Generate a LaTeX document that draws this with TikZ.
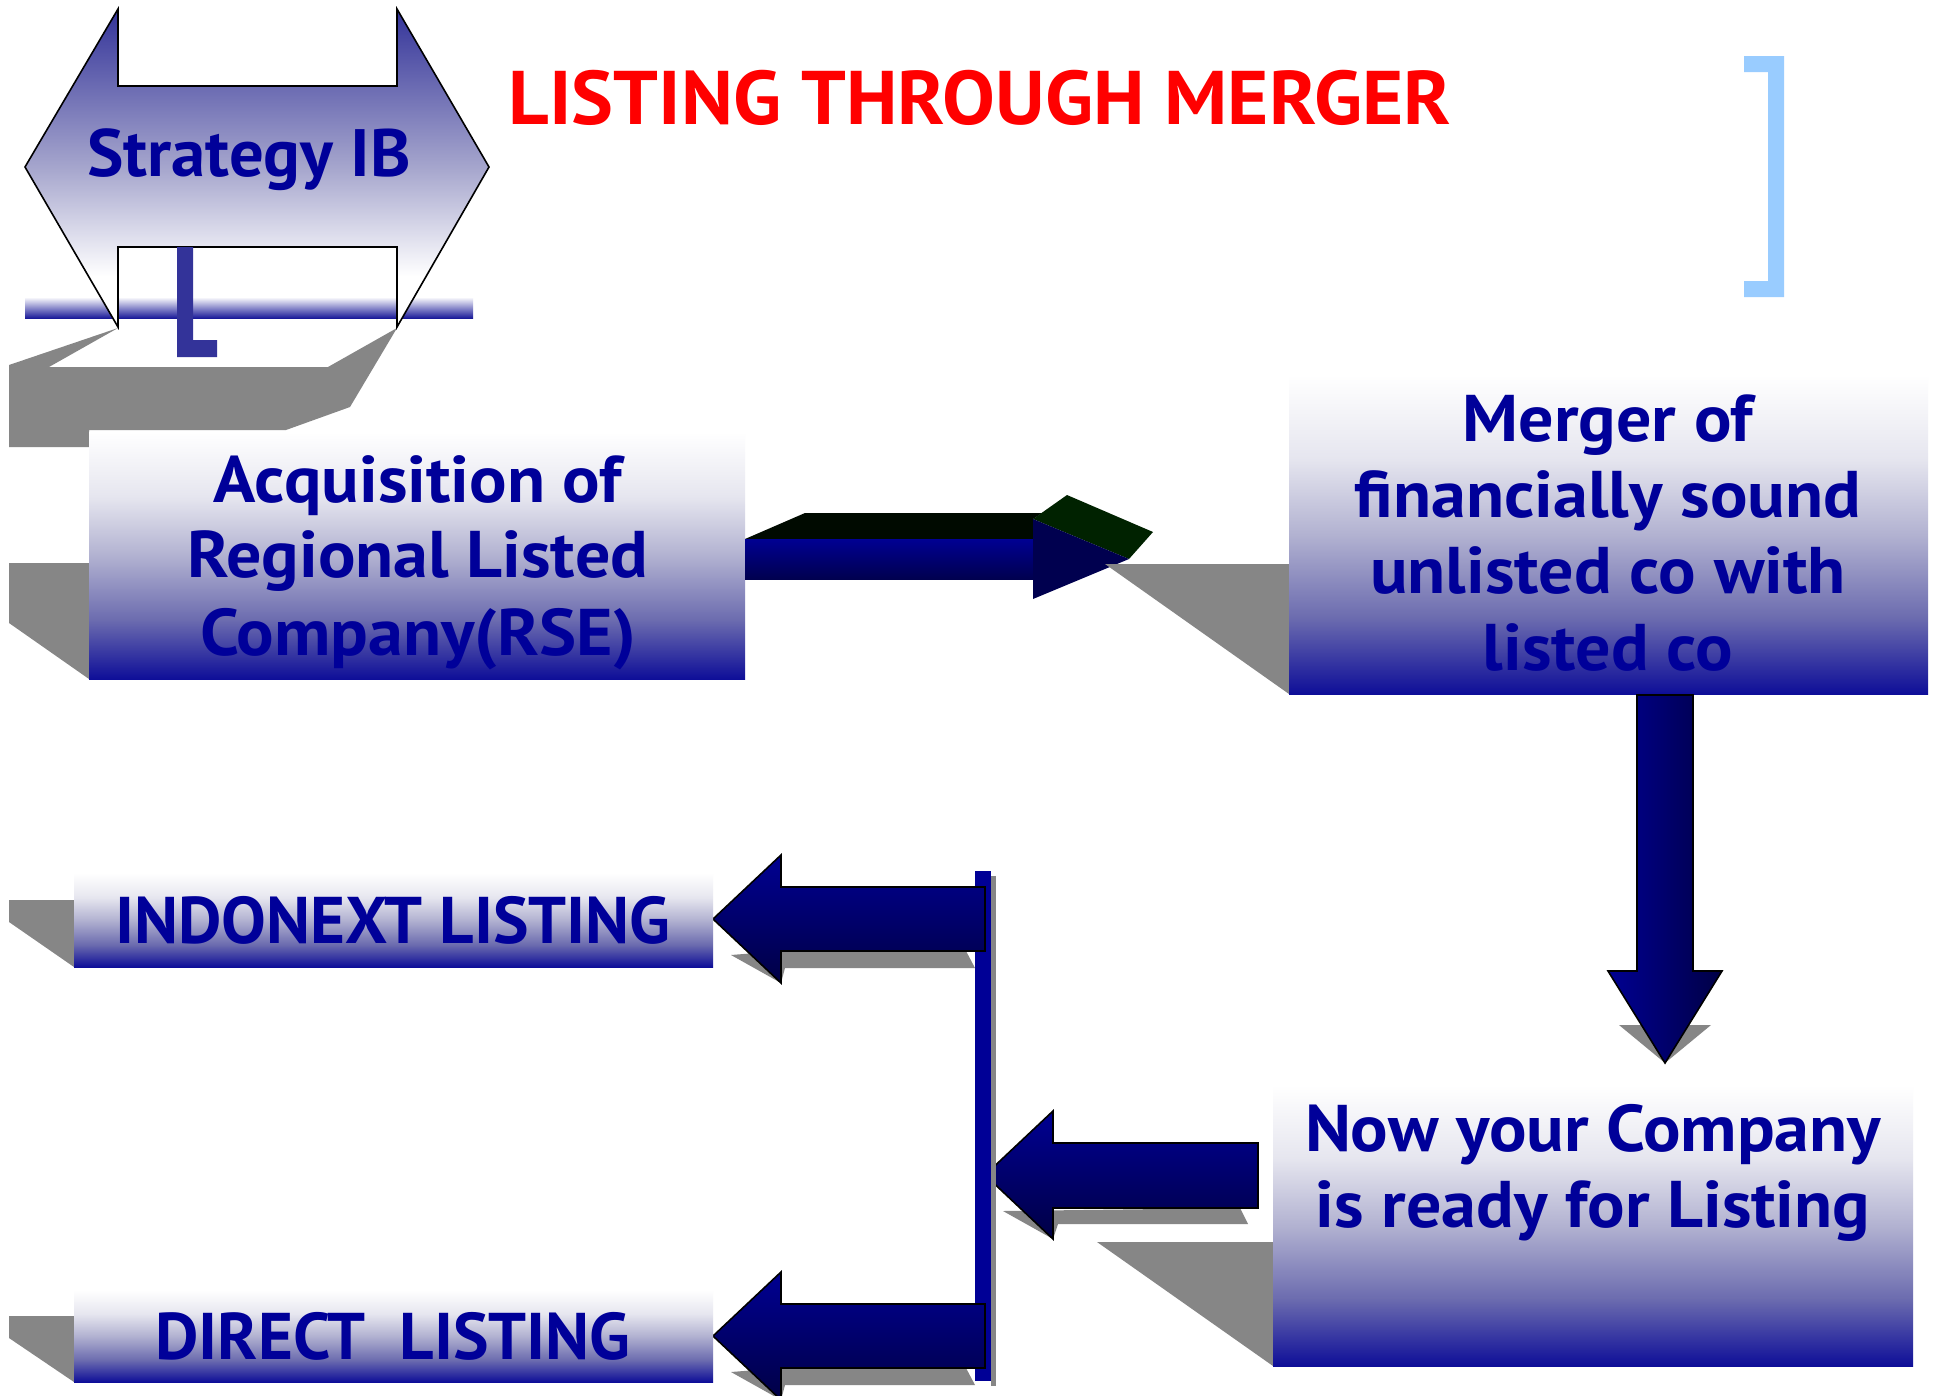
\documentclass[tikz,border=0pt]{standalone}
\usepackage{fontspec}
\setmainfont{PT Sans}
\newfontfamily\lowfont{PT Sans}[FakeStretch=1.06]
\newfontfamily\capfont{PT Sans}[FakeStretch=1.015]
\newfontfamily\titlefont{PT Sans}[FakeStretch=1.04]
\newfontfamily\stratfont{PT Sans}[FakeStretch=1.025]
\definecolor{navy}{HTML}{000099}
\definecolor{shadowgray}{HTML}{868686}
\definecolor{bdark}{HTML}{0E0E98}
\definecolor{bq1}{HTML}{6C6CAF}
\definecolor{bmid}{HTML}{B2B2D1}
\definecolor{bq3}{HTML}{E6E6EF}
\definecolor{sdark}{HTML}{333399}
\definecolor{smid}{HTML}{A6A6CD}
\definecolor{lcol}{HTML}{333399}
\definecolor{barblue}{HTML}{1A1A99}
\definecolor{arrtop}{HTML}{000092}
\definecolor{arrbot}{HTML}{000045}
\definecolor{topblack}{HTML}{000A00}
\definecolor{topgreen}{HTML}{002200}
\definecolor{headnavy}{HTML}{00004F}
\definecolor{vbar}{HTML}{000096}
\definecolor{lightblue}{HTML}{99CCFF}
\pgfdeclareverticalshading{boxgrad}{100bp}{color(0bp)=(bdark); color(25bp)=(bdark); color(37bp)=(bq1); color(50bp)=(bmid); color(62bp)=(bq3); color(75bp)=(white); color(100bp)=(white)}
\pgfdeclareverticalshading{stratgrad}{100bp}{color(0bp)=(white); color(25bp)=(white); color(33bp)=(white); color(50bp)=(smid); color(75bp)=(sdark); color(100bp)=(sdark)}
\pgfdeclareverticalshading{bargrad}{100bp}{color(0bp)=(barblue); color(25bp)=(barblue); color(75bp)=(white); color(100bp)=(white)}
\begin{document}
\begin{tikzpicture}[x=1pt,y=-1pt,
  boxnode/.style={shade, shading=boxgrad, draw=none, inner sep=0pt, outer sep=0pt},
  lbl/.style={anchor=base, text=navy, inner sep=0pt, font=\lowfont\bfseries\fontsize{66}{76}\selectfont},
  caplbl/.style={anchor=base, text=navy, inner sep=0pt, font=\capfont\bfseries\fontsize{66}{76}\selectfont},
  shadowfill/.style={fill=shadowgray},
  blockarrow/.style={draw=black, line width=1.6pt, line join=miter, top color=arrtop, bottom color=arrbot}
]
\useasboundingbox (0,0) rectangle (1937,1395);
\fill[white] (0,0) rectangle (1937,1395);

% ---------- Strategy IB double arrow ----------
\fill[shadowfill] (118,328) -- (9,365) -- (9,447) -- (89,447) -- (89,430) -- (286,430) -- (350,407) -- (397,328) -- (328,367) -- (49,367) -- cycle;
\shade[shading=bargrad] (25,297) rectangle (473,318);
\shadedraw[shading=stratgrad, draw=black, line width=1.6pt, line join=miter]
  (118,9) -- (118,86) -- (397,86) -- (397,9) -- (489,167) -- (397,327) -- (397,247) -- (118,247) -- (118,327) -- (25,167) -- cycle;
\fill[lcol] (177,247) -- (193,247) -- (193,340) -- (217,340) -- (217,357) -- (177,357) -- cycle;
\node[anchor=base, text=navy, inner sep=0pt, font=\stratfont\bfseries\fontsize{67}{76}\selectfont] (strat) at (249,176) {Strategy IB};

% ---------- Title and bracket ----------
\node[anchor=base, text=red, inner sep=0pt, font=\titlefont\bfseries\fontsize{76}{80}\selectfont] (title) at (980,124) {LISTING THROUGH MERGER};
\fill[lightblue] (1744,56) -- (1784,56) -- (1784,297) -- (1744,297) -- (1744,281) -- (1768,281) -- (1768,72) -- (1744,72) -- cycle;

% ---------- Acquisition box ----------
\fill[shadowfill] (9,563) -- (89,563) -- (89,679) -- (9,623) -- cycle;
\node[boxnode, minimum width=656pt, minimum height=247pt] (acq) at (417,555.5) {};
\node[lbl] (acq1) at (418,502) {Acquisition of};
\node[lbl] (acq2) at (418,577) {Regional Listed};
\node[lbl] (acq3) at (418,655) {Company(RSE)};

% ---------- 3D arrow to merger ----------
\fill[topblack] (acq.east |- 0,539) -- (805,513) -- (1042,513) -- (1033,519) -- (1033,539) -- cycle;
\fill[topgreen] (1033,519) -- (1067,495) -- (1153,532) -- (1129,559) -- cycle;
\shade[top color=arrtop, bottom color=headnavy] (acq.east |- 0,539) rectangle (1033,579);
\fill[headnavy] (1033,519) -- (1129,559) -- (1033,599) -- cycle;

% ---------- Merger box ----------
\fill[shadowfill] (1105,564) -- (1289,564) -- (1289,694) -- cycle;
\node[boxnode, minimum width=639pt, minimum height=319pt] (merger) at (1608.5,534.5) {};
\node[lbl] (m1) at (1608,441) {Merger of};
\node[lbl] (m2) at (1608,517) {financially sound};
\node[lbl] (m3) at (1608,593) {unlisted co with};
\node[lbl] (m4) at (1608,670) {listed co};

% ---------- Down arrow ----------
\fill[shadowfill] (1619,1025) -- (1711,1025) -- (1665,1063) -- cycle;
\shadedraw[draw=black, line width=1.6pt, line join=miter, left color=arrtop, right color=arrbot]
  (1637,695) -- (1693,695) -- (1693,971) -- (1722,971) -- (1665,1063) -- (1608,971) -- (1637,971) -- cycle;

% ---------- Now box ----------
\fill[shadowfill] (1097,1242) -- (1273,1242) -- (1273,1366) -- cycle;
\node[boxnode, minimum width=640pt, minimum height=281pt] (ready) at (1593,1225.5) {};
\node[lbl] (r1) at (1593,1151) {Now your Company};
\node[lbl] (r2) at (1593,1227) {is ready for Listing};

% ---------- Middle arrow ----------
\fill[shadowfill] (1003,1211) -- (1053,1239) -- (1058,1224) -- (1248,1224) -- (1240,1208) -- cycle;
\shadedraw[blockarrow] (1258,1143) -- (1053,1143) -- (1053,1111) -- (985,1175) -- (1053,1239) -- (1053,1208) -- (1258,1208) -- cycle;

% ---------- Vertical bar ----------
\fill[shadowfill] (991,876) rectangle (996,1386);
\fill[vbar] (975,871) rectangle (991,1381);

% ---------- Left arrows ----------
\fill[shadowfill] (731,955) -- (781,983) -- (785,968) -- (975,968) -- (966,951) -- (781,951) -- cycle;
\shadedraw[blockarrow] (985,887) -- (781,887) -- (781,855) -- (713,919) -- (781,983) -- (781,951) -- (985,951) -- cycle;
\fill[shadowfill] (731,1372) -- (781,1400) -- (785,1385) -- (975,1385) -- (966,1368) -- (781,1368) -- cycle;
\shadedraw[blockarrow] (985,1304) -- (781,1304) -- (781,1272) -- (713,1336) -- (781,1400) -- (781,1368) -- (985,1368) -- cycle;

% ---------- Listing boxes ----------
\fill[shadowfill] (9,900) -- (74,900) -- (74,967) -- (9,922) -- cycle;
\node[boxnode, minimum width=639pt, minimum height=94pt] (indo) at (393.5,920) {};
\node[caplbl] (indoT) at (393,943) {INDONEXT LISTING};
\fill[shadowfill] (9,1316) -- (74,1316) -- (74,1382) -- (9,1338) -- cycle;
\node[boxnode, minimum width=639pt, minimum height=92pt] (direct) at (393.5,1336) {};
\node[caplbl] (directT) at (393,1359) {DIRECT\ \ LISTING};
\end{tikzpicture}
\end{document}
